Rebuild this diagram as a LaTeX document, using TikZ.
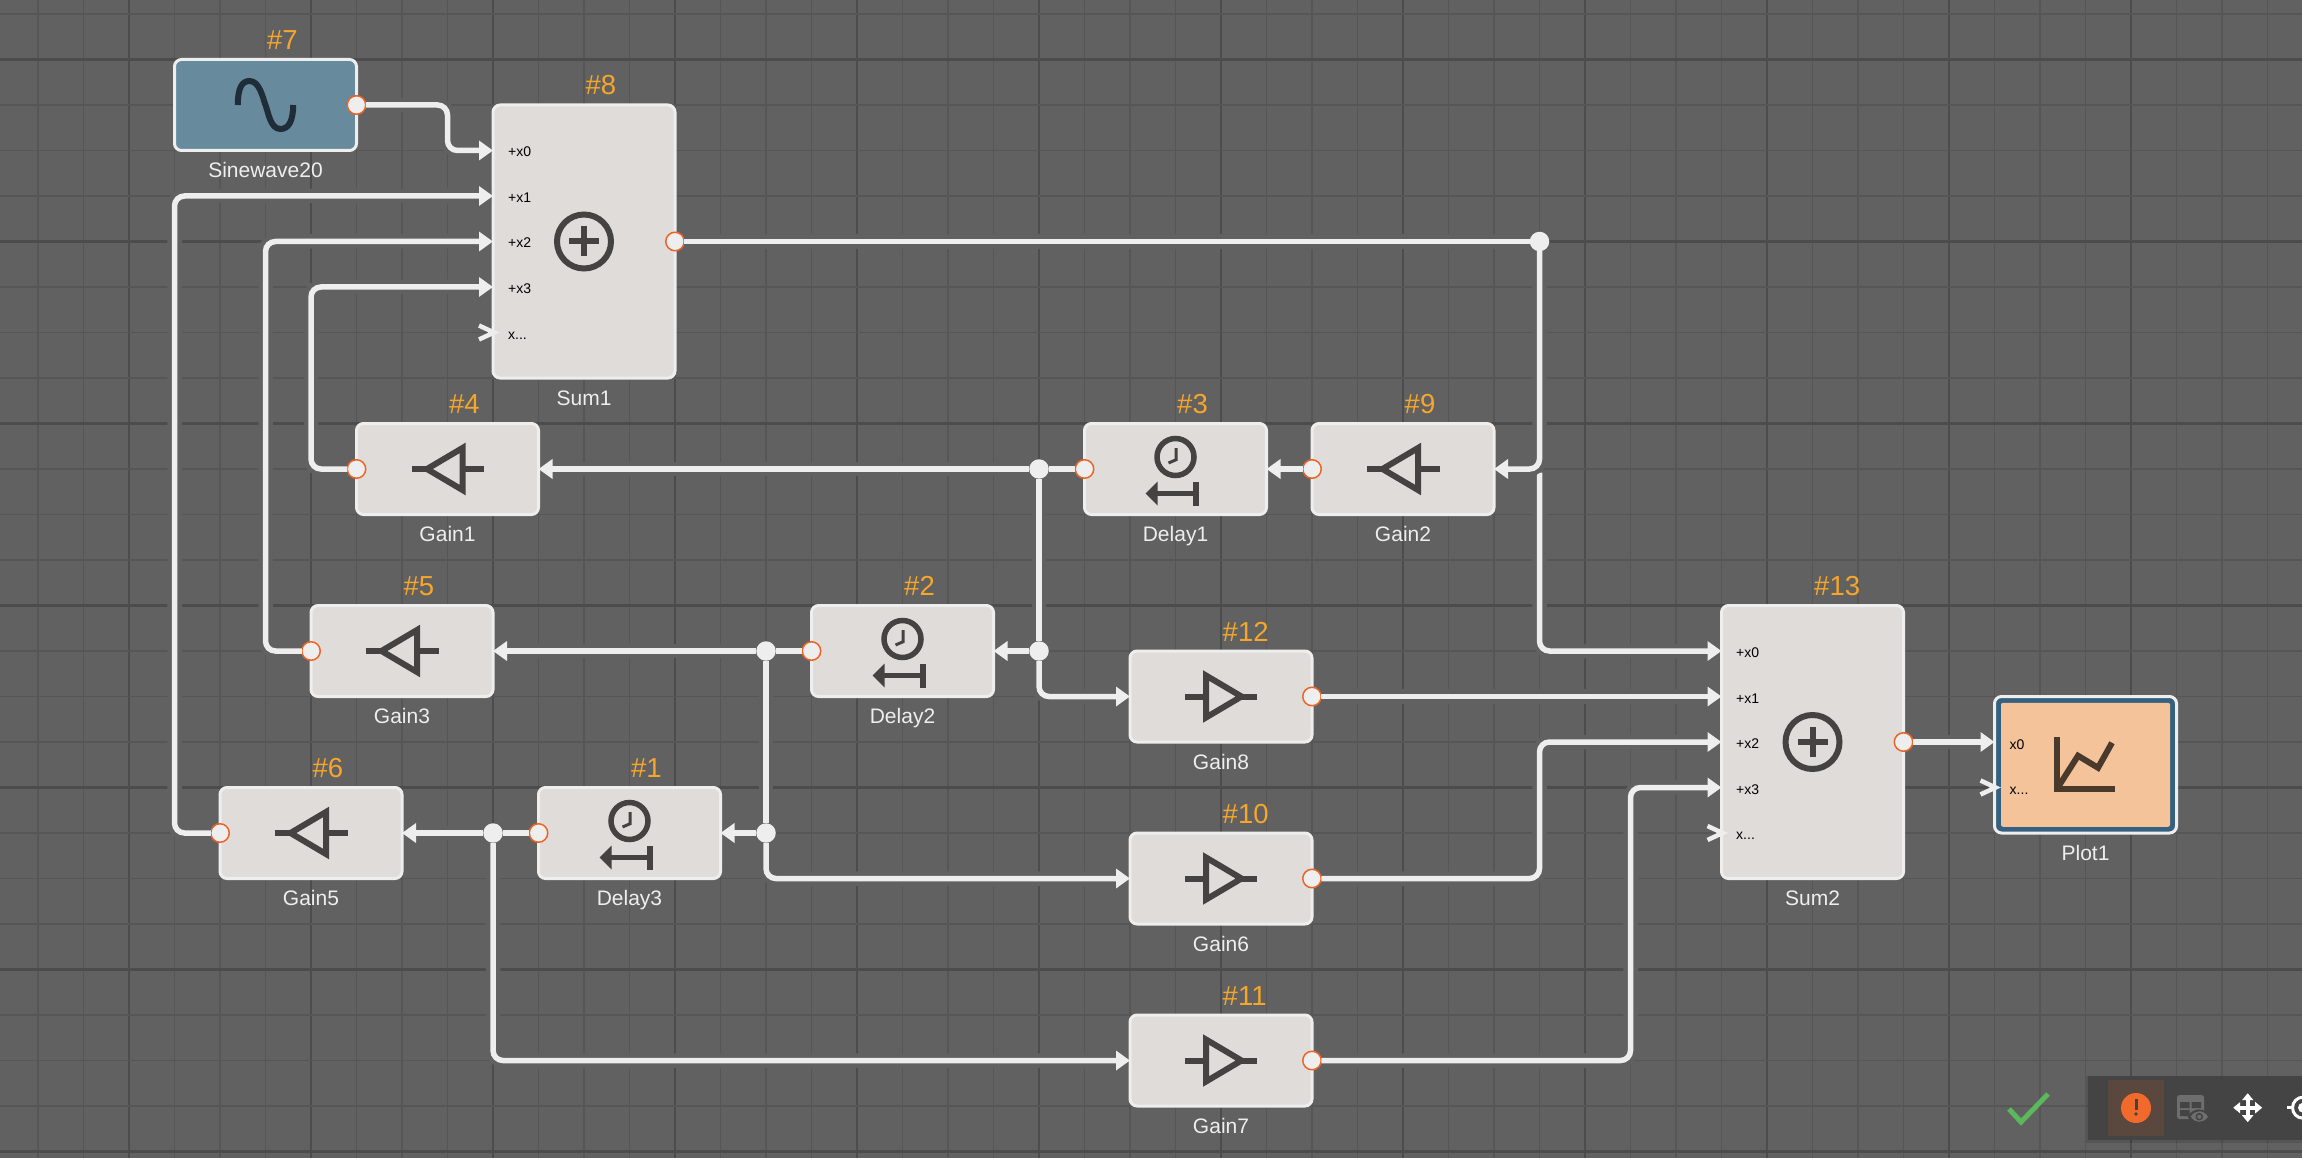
\documentclass[tikz,border=0pt]{standalone}
\usepackage{fontspec}
\setmainfont{Liberation Sans}
\usetikzlibrary{arrows.meta}
\definecolor{bgc}{HTML}{616161}
\definecolor{gmin}{HTML}{565656}
\definecolor{gmaj}{HTML}{4C4C4C}
\definecolor{edge}{HTML}{EEEEEE}
\definecolor{blk}{HTML}{DFDCD9}
\definecolor{ico}{HTML}{454341}
\definecolor{org}{HTML}{F5A62B}
\definecolor{prt}{HTML}{EC6526}
\definecolor{sinef}{HTML}{678A9D}
\definecolor{sinei}{HTML}{1F2D38}
\definecolor{plotb}{HTML}{35607F}
\definecolor{plotf}{HTML}{F4C39A}
\definecolor{ploti}{HTML}{4A3A2C}
\definecolor{tbar}{HTML}{444444}
\definecolor{tsel}{HTML}{5A483F}
\definecolor{tico}{HTML}{6E6E6E}
\definecolor{warn}{HTML}{F26A2B}
\definecolor{okg}{HTML}{5CB85C}
\def\xdots{x...}
\tikzset{
  block/.style={draw=edge,fill=blk,line width=3pt,rounded corners=7pt,outer sep=0pt,inner sep=0pt,minimum width=182pt,minimum height=91pt},
  tall/.style={minimum height=273pt},
  port/.style={circle,draw=prt,fill=edge,line width=1.5pt,minimum size=18.5pt,inner sep=0pt,outer sep=0pt},
  junction/.style={circle,fill=edge,minimum size=19.5pt,inner sep=0pt,outer sep=0pt},
  idlabel/.style={text=org,font=\fontsize{27.5}{27.5}\selectfont,anchor=base west,inner sep=0pt},
  namelabel/.style={text=edge,font=\fontsize{21}{21}\selectfont,inner sep=0pt},
  plabel/.style={text=black,font=\fontsize{14}{14}\selectfont,anchor=base west,inner sep=0pt},
  wire/.style={draw=edge,line width=5.5pt,rounded corners=10pt,
    preaction={draw=bgc,line width=14.5pt,-,shorten >=2pt}},
  into/.style={-{Triangle[length=14pt,width=19pt]}},
  chevron/.style={draw=edge,line width=4.5pt,miter limit=4},
  gainr/.pic={\begin{scope}[x=1pt,y=-1pt,draw=ico,line width=6pt,miter limit=10]
    \draw (-15,-21) -- (-15,21) -- (20.5,0) -- cycle;
    \draw (-36.5,0) -- (-15,0) (20.5,0) -- (36,0);
  \end{scope}},
  gainl/.pic={\begin{scope}[x=-1pt,y=-1pt,draw=ico,line width=6pt,miter limit=10]
    \draw (-15,-21) -- (-15,21) -- (20.5,0) -- cycle;
    \draw (-36.5,0) -- (-15,0) (20.5,0) -- (36,0);
  \end{scope}},
  delayicon/.pic={\begin{scope}[x=1pt,y=-1pt]
    \draw[ico,line width=5.5pt] (0,-12) circle (18.5pt);
    \draw[ico,line width=3pt] (0.7,-21) -- (0.7,-9.3) -- (-7,-6);
    \draw[ico,line width=5pt] (-20,24.5) -- (20,24.5);
    \fill[ico] (-30,24.5) -- (-18,12.5) -- (-18,36.5) -- cycle;
    \fill[ico] (17.5,12.5) rectangle (23.5,36.5);
  \end{scope}},
  sumicon/.pic={\begin{scope}[x=1pt,y=-1pt]
    \draw[ico,line width=6pt] (0,0) circle (27pt);
    \draw[ico,line width=6pt] (-15,0) -- (15,0) (0,-15) -- (0,15);
  \end{scope}},
  sineicon/.pic={\begin{scope}[x=1pt,y=-1pt]
    \draw[sinei,line width=6pt] (-27.7,0) .. controls (-27.7,-16) and (-24,-24) .. (-16,-24)
      .. controls (-6,-24) and (-3,-8) .. (0,0) .. controls (3,8) and (5,24) .. (15,24)
      .. controls (23,24) and (27.7,16) .. (27.7,0);
  \end{scope}},
  ploticon/.pic={\begin{scope}[x=1pt,y=-1pt]
    \draw[ploti,line width=6pt,miter limit=4] (-28.5,-28) -- (-28.5,24) -- (29.5,24);
    \draw[ploti,line width=6pt,miter limit=4] (-28.5,24) -- (-7.5,-9) -- (12.5,3) -- (26.5,-22);
  \end{scope}},
}
\begin{document}
\begin{tikzpicture}[x=45.5pt,y=-45.5pt]
\useasboundingbox (-38pt,14pt) rectangle (2264pt,-1144pt);
\clip (-38pt,14pt) rectangle (2264pt,-1144pt);
\fill[bgc] (-38pt,14pt) rectangle (2264pt,-1144pt);
% grid
\foreach \k in {0,...,49}{
  \pgfmathtruncatemacro{\m}{mod(\k,4)}
  \ifnum\m=2 \draw[gmaj,line width=2.6pt] (\k,-0.4) -- (\k,25.3);
  \else \draw[gmin,line width=1.6pt] (\k,-0.4) -- (\k,25.3); \fi
}
\foreach \k in {0,...,25}{
  \pgfmathtruncatemacro{\m}{mod(\k,4)}
  \ifnum\m=1 \draw[gmaj,line width=2.6pt] (-1,\k) -- (50,\k);
  \else \draw[gmin,line width=1.6pt] (-1,\k) -- (50,\k); \fi
}
% blocks
\node[block,fill=sinef] (sine) at (5,2) {};
\node[block,tall] (sum1) at (12,5) {};
\node[block] (gain1) at (9,10) {};
\node[block] (delay1) at (25,10) {};
\node[block] (gain2) at (30,10) {};
\node[block] (gain3) at (8,14) {};
\node[block] (delay2) at (19,14) {};
\node[block] (gain8) at (26,15) {};
\node[block,tall] (sum2) at (39,16) {};
\node[block,fill=plotb,minimum height=136.5pt] (plot) at (45,16.5) {};
\node[fill=plotf,rounded corners=2pt,minimum width=169pt,minimum height=124pt,inner sep=0pt] (plotin) at (plot) {};
\node[block] (gain5) at (6,18) {};
\node[block] (delay3) at (13,18) {};
\node[block] (gain6) at (26,19) {};
\node[block] (gain7) at (26,23) {};
% icons
\pic at (sine) {sineicon};
\pic at (sum1) {sumicon};
\pic at (sum2) {sumicon};
\pic at (plot) {ploticon};
\pic at (gain1) {gainl};
\pic at (gain2) {gainl};
\pic at (gain3) {gainl};
\pic at (gain5) {gainl};
\pic at (gain6) {gainr};
\pic at (gain7) {gainr};
\pic at (gain8) {gainr};
\pic at (delay1) {delayicon};
\pic at (delay2) {delayicon};
\pic at (delay3) {delayicon};
% input anchors
\foreach \i in {0,1,2,3,4}{
  \pgfmathsetmacro{\a}{3+\i}
  \pgfmathsetmacro{\b}{14+\i}
  \coordinate (sum1x\i) at (10,\a);
  \coordinate (sum2x\i) at (37,\b);
}
\coordinate (plotx0) at (43,16);
\coordinate (plotx1) at (43,17);
% output ports
\node[port] (sineo) at (sine.east) {};
\node[port] (sum1o) at (sum1.east) {};
\node[port] (sum2o) at (sum2.east) {};
\node[port] (gain1o) at (gain1.west) {};
\node[port] (gain2o) at (gain2.west) {};
\node[port] (gain3o) at (gain3.west) {};
\node[port] (gain5o) at (gain5.west) {};
\node[port] (delay1o) at (delay1.west) {};
\node[port] (delay2o) at (delay2.west) {};
\node[port] (delay3o) at (delay3.west) {};
\node[port] (gain6o) at (gain6.east) {};
\node[port] (gain7o) at (gain7.east) {};
\node[port] (gain8o) at (gain8.east) {};
% junctions
\node[junction] (j1) at (33,5) {};
\node[junction] (j2) at (22,10) {};
\node[junction] (j3) at (22,14) {};
\node[junction] (j4) at (16,14) {};
\node[junction] (j5) at (16,18) {};
\node[junction] (j6) at (10,18) {};
\coordinate (j1b) at ([yshift=-3.5pt]33,10);
% wires
\draw[wire,into] (sineo) -- (9,2) -- (9,3) -- (sum1x0);
\draw[wire,into] (gain5o) -- (3,18) -- (3,4) -- (sum1x1);
\draw[wire,into] (gain3o) -- (5,14) -- (5,5) -- (sum1x2);
\draw[wire,into] (gain1o) -- (6,10) -- (6,6) -- (sum1x3);
\draw[wire] (sum1o) -- (j1);
\draw[wire,into] (j1b) -- (33,14) -- (sum2x0);
\draw[wire,into] (j1) -- (33,10) -- (gain2.east);
\draw[wire,into] (gain2o) -- (delay1.east);
\draw[wire] (delay1o) -- (j2);
\draw[wire,into] (j2) -- (gain1.east);
\draw[wire] (j2) -- (j3);
\draw[wire,into] (j3) -- (delay2.east);
\draw[wire,into] (j3) -- (22,15) -- (gain8.west);
\draw[wire,into] (gain8o) -- (sum2x1);
\draw[wire] (delay2o) -- (j4);
\draw[wire,into] (j4) -- (gain3.east);
\draw[wire] (j4) -- (j5);
\draw[wire,into] (j5) -- (delay3.east);
\draw[wire,into] (j5) -- (16,19) -- (gain6.west);
\draw[wire,into] (gain6o) -- (33,19) -- (33,16) -- (sum2x2);
\draw[wire] (delay3o) -- (j6);
\draw[wire,into] (j6) -- (gain5.east);
\draw[wire,into] (j6) -- (10,23) -- (gain7.west);
\draw[wire,into] (gain7o) -- (35,23) -- (35,17) -- (sum2x3);
\draw[wire,into] (sum2o) -- (plotx0);
% open inputs
\draw[chevron] ([xshift=-14pt,yshift=7pt]sum1x4) -- ([xshift=1pt]sum1x4) -- ([xshift=-14pt,yshift=-7pt]sum1x4);
\draw[chevron] ([xshift=-14pt,yshift=7pt]sum2x4) -- ([xshift=1pt]sum2x4) -- ([xshift=-14pt,yshift=-7pt]sum2x4);
\draw[chevron] ([xshift=-14pt,yshift=7pt]plotx1) -- ([xshift=1pt]plotx1) -- ([xshift=-14pt,yshift=-7pt]plotx1);
% port labels
\foreach \i/\t in {0/+x0,1/+x1,2/+x2,3/+x3,4/\xdots}{
  \node[plabel] (s1l\i) at ([xshift=15pt,yshift=-6.5pt]sum1x\i) {\t};
  \node[plabel] (s2l\i) at ([xshift=14.5pt,yshift=-6.5pt]sum2x\i) {\t};
}
\node[plabel] (pl0) at ([xshift=15pt,yshift=-7pt]plotx0) {x0};
\node[plabel] (pl1) at ([xshift=15pt,yshift=-7pt]plotx1) {\xdots};
% id labels
\foreach \n/\t in {sine/7,sum1/8,gain1/4,delay1/3,gain2/9,gain3/5,delay2/2,gain8/12,sum2/13,gain5/6,delay3/1,gain6/10,gain7/11}{
  \node[idlabel] (id\t) at ([xshift=1.5pt,yshift=10pt]\n.north) {\#\t};
}
% name labels
\foreach \n/\t in {sine/Sinewave20,sum1/Sum1,gain1/Gain1,delay1/Delay1,gain2/Gain2,gain3/Gain3,delay2/Delay2,gain8/Gain8,sum2/Sum2,plot/Plot1,gain5/Gain5,delay3/Delay3,gain6/Gain6,gain7/Gain7}{
  \node[namelabel,anchor=base] (nm\n) at ([yshift=-27pt]\n.south) {\t};
}
% toolbar and check mark, in pixel coordinates
\begin{scope}[shift={(-38pt,14pt)},x=1pt,y=-1pt]
  \draw[okg,line width=5pt] (2009,1109) -- (2021,1122) -- (2048,1094);
  \fill[black,opacity=0.12] (2086,1076) rectangle (2302,1143);
  \fill[tbar] (2088,1076) rectangle (2302,1140);
  \fill[tsel,rounded corners=2pt] (2108,1080) rectangle (2164,1136);
  \fill[warn] (2136,1108) circle (15pt);
  \fill[ico] (2134.5,1099) rectangle (2137.5,1110);
  \fill[ico] (2136,1114) circle (1.9pt);
  % table with eye
  \fill[tico,rounded corners=2.5pt] (2177,1095) rectangle (2204,1119);
  \fill[tbar] (2180,1102) rectangle (2189.5,1108) (2191.5,1102) rectangle (2201,1108) (2180,1110) rectangle (2189.5,1116);
  \fill[tbar] (2187.5,1116.7) .. controls (2193,1107) and (2205,1107) .. (2211,1116.7) .. controls (2205,1126) and (2193,1126) .. (2187.5,1116.7) -- cycle;
  \fill[tico] (2190.7,1116.7) .. controls (2195,1109.5) and (2203.5,1109.5) .. (2208,1116.7) .. controls (2203.5,1123.5) and (2195,1123.5) .. (2190.7,1116.7) -- cycle;
  \draw[tbar,line width=1.5pt] (2199.3,1116.7) circle (3pt);
  % move
  \draw[white,line width=4pt,{Triangle[length=7pt,width=11pt]}-{Triangle[length=7pt,width=11pt]}] (2233.2,1107.7) -- (2262.2,1107.7);
  \draw[white,line width=4pt,{Triangle[length=7pt,width=11pt]}-{Triangle[length=7pt,width=11pt]}] (2247.7,1093.2) -- (2247.7,1122.2);
  % crosshair
  \draw[white,line width=3pt] (2303,1107.7) circle (10.5pt);
  \fill[white] (2303,1107.7) circle (5pt);
  \draw[white,line width=3pt] (2287,1107.7) -- (2292,1107.7);
\end{scope}
\end{tikzpicture}
\end{document}
